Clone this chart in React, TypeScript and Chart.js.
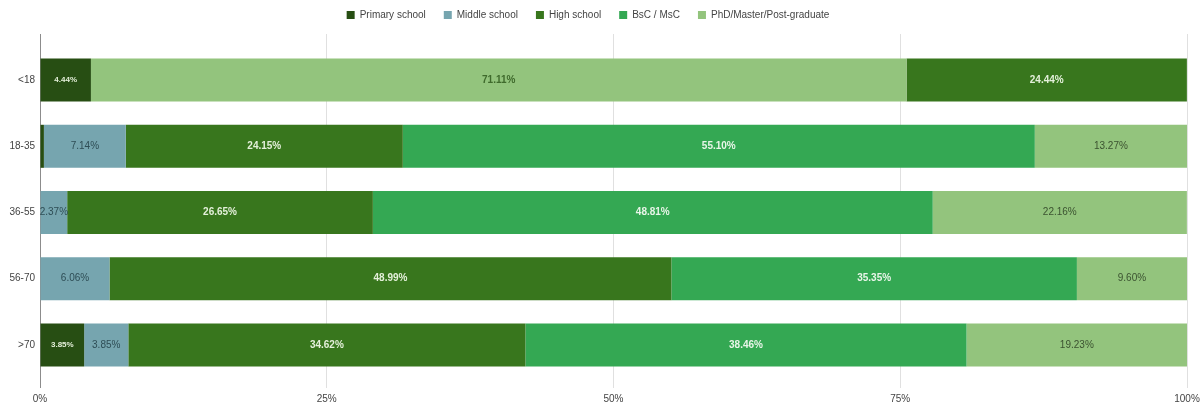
import React, { useEffect, useRef } from "react";
import { Chart, registerables } from "chart.js";

Chart.register(...registerables);

const categories = ["<18", "18-35", "36-55", "56-70", ">70"];
const seriesNames = ["Primary school", "Middle school", "High school", "BsC / MsC", "PhD/Master/Post-graduate"];
const primaryValues = [4.44, 0.34, 0, 0, 3.85];
const middleValues = [0, 7.14, 2.37, 6.06, 3.85];
const highValues = [24.44, 24.15, 26.65, 48.99, 34.62];
const bscValues = [0, 55.1, 48.81, 35.35, 38.46];
// PhD share of the <18 group is drawn right after primary school in the reference
const phdLeadValues = [71.11, 0, 0, 0, 0];
const phdValues = [0, 13.27, 22.16, 9.6, 19.23];
const xTickValues = [0, 25, 50, 75, 100];

const COLORS = {
  primary: "#274e13",
  middle: "#76a5af",
  high: "#38761d",
  bsc: "#34a853",
  phd: "#93c47d",
};

const FONT = "'Liberation Sans', Arial, sans-serif";

type LabelStyle = { size: number; weight: string; color: string };
const LABEL_STYLES: LabelStyle[] = [
  { size: 8, weight: "bold", color: "#e4efd9" },
  { size: 10, weight: "bold", color: "#3f6a2c" },
  { size: 10, weight: "normal", color: "#2e4d55" },
  { size: 10, weight: "bold", color: "#e4f0da" },
  { size: 10, weight: "bold", color: "#e8f5e8" },
  { size: 10, weight: "normal", color: "#3b5230" },
];

const segLabels = {
  id: "segLabels",
  afterDatasetsDraw(chart: any) {
    const ctx = chart.ctx;
    chart.data.datasets.forEach((ds: any, di: number) => {
      const meta = chart.getDatasetMeta(di);
      if (meta.hidden) return;
      const st = LABEL_STYLES[di];
      meta.data.forEach((el: any, i: number) => {
        const v = ds.data[i];
        if (!v) return;
        const { x, y, base } = el.getProps(["x", "y", "base"], true);
        if (Math.abs(x - base) < 15) return;
        ctx.save();
        ctx.font = `${st.weight} ${st.size}px ${FONT}`;
        ctx.fillStyle = st.color;
        ctx.textAlign = "center";
        ctx.textBaseline = "middle";
        ctx.fillText(v.toFixed(2) + "%", (x + base) / 2, y);
        ctx.restore();
      });
    });
  },
};

const gridColor = (c: any) => (c.tick && c.tick.value === 0 ? "#8c8c8c" : "#e0e0e0");

export default function App() {
  const ref = useRef<HTMLCanvasElement>(null);
  useEffect(() => {
    if (!ref.current) return;
    Chart.defaults.font.family = FONT;
    const common = { borderWidth: 0, barPercentage: 0.65, categoryPercentage: 1 };
    const chart = new Chart(ref.current, {
      type: "bar",
      data: {
        labels: categories,
        datasets: [
          { label: seriesNames[0], data: primaryValues, backgroundColor: COLORS.primary, ...common },
          { label: seriesNames[4], data: phdLeadValues, backgroundColor: COLORS.phd, ...common },
          { label: seriesNames[1], data: middleValues, backgroundColor: COLORS.middle, ...common },
          { label: seriesNames[2], data: highValues, backgroundColor: COLORS.high, ...common },
          { label: seriesNames[3], data: bscValues, backgroundColor: COLORS.bsc, ...common },
          { label: seriesNames[4], data: phdValues, backgroundColor: COLORS.phd, ...common },
        ],
      },
      options: {
        indexAxis: "y",
        animation: false,
        responsive: false,
        layout: { padding: { top: -8, left: -11, right: 15, bottom: 5 } },
        plugins: {
          tooltip: { enabled: false },
          legend: {
            position: "top",
            labels: {
              boxWidth: 8,
              boxHeight: 8,
              padding: 18,
              color: "#444",
              font: { size: 10, family: FONT },
              filter: (item: any) => item.datasetIndex !== 1,
            },
          },
        },
        scales: {
          x: {
            type: "linear",
            stacked: true,
            min: 0,
            max: 100,
            afterBuildTicks: (s: any) => {
              s.ticks = xTickValues.map((v) => ({ value: v }));
            },
            ticks: {
              callback: (v: any) => v + "%",
              color: "#444",
              font: { size: 10, family: FONT },
              padding: 5,
              maxRotation: 0,
            },
            grid: { color: gridColor, drawTicks: true, tickLength: 10, lineWidth: 1 },
            border: { display: false },
            afterFit: (s: any) => {
              s.height = 26;
              s.paddingLeft = 0;
              s.paddingRight = 0;
            },
          },
          xTop: {
            type: "linear",
            position: "top",
            min: 0,
            max: 100,
            afterBuildTicks: (s: any) => {
              s.ticks = xTickValues.map((v) => ({ value: v }));
            },
            ticks: { display: false },
            grid: { color: gridColor, drawOnChartArea: false, drawTicks: true, tickLength: 13 },
            border: { display: false },
            afterFit: (s: any) => {
              s.height = 17;
              s.paddingLeft = 0;
              s.paddingRight = 0;
            },
          },
          y: {
            type: "category",
            stacked: true,
            grid: { display: false, drawTicks: false },
            border: { display: false },
            ticks: { color: "#444", font: { size: 10, family: FONT }, padding: 5 },
            afterFit: (s: any) => {
              s.width = 51;
            },
          },
        },
      },
      plugins: [segLabels],
    } as any);
    return () => chart.destroy();
  }, []);
  return (
    <>
      <style>{"body{margin:0}"}</style>
      <canvas ref={ref} width={1202} height={409} style={{ display: "block" }} />
    </>
  );
}
